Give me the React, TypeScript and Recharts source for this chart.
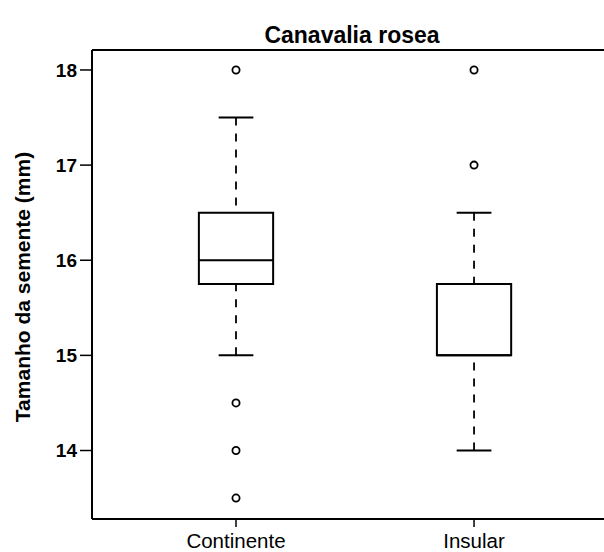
import React from 'react';
import { ComposedChart, XAxis, YAxis, Scatter, ReferenceArea, ReferenceLine } from 'recharts';

const categories = ['Continente', 'Insular'];
const whiskerLow = [15, 14];
const quartile1 = [15.75, 15];
const medians = [16, 15];
const quartile3 = [16.5, 15.75];
const whiskerHigh = [17.5, 16.5];
const outliersContinente = [18, 14.5, 14, 13.5];
const outliersInsular = [18, 17];
const yTicks = [14, 15, 16, 17, 18];
const xTicks = [1, 2];
const xDomain: [number, number] = [0.395, 2.546];
const yDomain: [number, number] = [13.28, 18.21];

const title = 'Canavalia rosea';
const yLabel = 'Tamanho da semente (mm)';

const BOX_HALF = 0.156;
const CAP_HALF = 0.073;
const FONT = '"Liberation Sans", Arial, Helvetica, sans-serif';

const outlierData = [
  ...outliersContinente.map((y) => ({ x: 1, y })),
  ...outliersInsular.map((y) => ({ x: 2, y })),
];

const OutlierShape = (props: any) => (
  <circle cx={props.cx} cy={props.cy} r={3.6} fill="none" stroke="#000" strokeWidth={1.8} />
);

export default function App() {
  const W = 596;
  const H = 544;
  return (
    <div style={{ position: 'absolute', left: 8, top: 8, width: W, height: H, overflow: 'hidden', fontFamily: FONT }}>
      <ComposedChart width={W} height={H} margin={{ top: 42, right: 0, left: 24, bottom: 3 }}>
        <XAxis
          type="number"
          dataKey="x"
          domain={xDomain}
          allowDataOverflow
          ticks={xTicks}
          tickFormatter={(v: number) => categories[v - 1] ?? ''}
          height={30}
          tickSize={8}
          tickMargin={6}
          axisLine={{ stroke: '#000', strokeWidth: 2 }}
          tickLine={{ stroke: '#000', strokeWidth: 1.5 }}
          tick={{ fill: '#000', fontSize: 20.5, fontFamily: FONT }}
        />
        <YAxis
          type="number"
          dataKey="y"
          domain={yDomain}
          allowDataOverflow
          ticks={yTicks}
          width={60}
          tickSize={12}
          tickMargin={3}
          axisLine={{ stroke: '#000', strokeWidth: 2 }}
          tickLine={{ stroke: '#000', strokeWidth: 1.5 }}
          tick={{ fill: '#000', fontSize: 19, fontWeight: 'bold', fontFamily: FONT }}
        />
        <ReferenceLine y={yDomain[1]} stroke="#000" strokeWidth={2} ifOverflow="visible" />
        {categories.map((c, i) => {
          const x = i + 1;
          return (
            <ReferenceArea
              key={'box' + c}
              x1={x - BOX_HALF}
              x2={x + BOX_HALF}
              y1={quartile1[i]}
              y2={quartile3[i]}
              fill="#fff"
              fillOpacity={1}
              stroke="#000"
              strokeWidth={2}
              ifOverflow="visible"
            />
          );
        })}
        {categories.map((c, i) => {
          const x = i + 1;
          return (
            <ReferenceLine
              key={'med' + c}
              segment={[{ x: x - BOX_HALF, y: medians[i] }, { x: x + BOX_HALF, y: medians[i] }]}
              stroke="#000"
              strokeWidth={2}
              ifOverflow="visible"
            />
          );
        })}
        {categories.map((c, i) => {
          const x = i + 1;
          return (
            <ReferenceLine
              key={'wu' + c}
              segment={[{ x, y: whiskerHigh[i] }, { x, y: quartile3[i] }]}
              stroke="#000"
              strokeWidth={1.8}
              strokeDasharray="8 8"
              ifOverflow="visible"
            />
          );
        })}
        {categories.map((c, i) => {
          const x = i + 1;
          return (
            <ReferenceLine
              key={'wl' + c}
              segment={[{ x, y: whiskerLow[i] }, { x, y: quartile1[i] }]}
              stroke="#000"
              strokeWidth={1.8}
              strokeDasharray="8 8"
              ifOverflow="visible"
            />
          );
        })}
        {categories.map((c, i) => {
          const x = i + 1;
          return (
            <ReferenceLine
              key={'cu' + c}
              segment={[{ x: x - CAP_HALF, y: whiskerHigh[i] }, { x: x + CAP_HALF, y: whiskerHigh[i] }]}
              stroke="#000"
              strokeWidth={2}
              ifOverflow="visible"
            />
          );
        })}
        {categories.map((c, i) => {
          const x = i + 1;
          return (
            <ReferenceLine
              key={'cl' + c}
              segment={[{ x: x - CAP_HALF, y: whiskerLow[i] }, { x: x + CAP_HALF, y: whiskerLow[i] }]}
              stroke="#000"
              strokeWidth={2}
              ifOverflow="visible"
            />
          );
        })}
        <Scatter data={outlierData} dataKey="y" shape={OutlierShape} isAnimationActive={false} />
      </ComposedChart>
      <svg
        width={W}
        height={H}
        style={{ position: 'absolute', left: 0, top: 0, pointerEvents: 'none' }}
      >
        <text x={344} y={35} textAnchor="middle" fontSize={23} fontWeight="bold" fontFamily={FONT} fill="#000">
          {title}
        </text>
        <text
          x={0}
          y={0}
          transform={`translate(22, 279) rotate(-90)`}
          textAnchor="middle"
          fontSize={21}
          fontWeight="bold"
          fontFamily={FONT}
          fill="#000"
        >
          {yLabel}
        </text>
      </svg>
    </div>
  );
}
